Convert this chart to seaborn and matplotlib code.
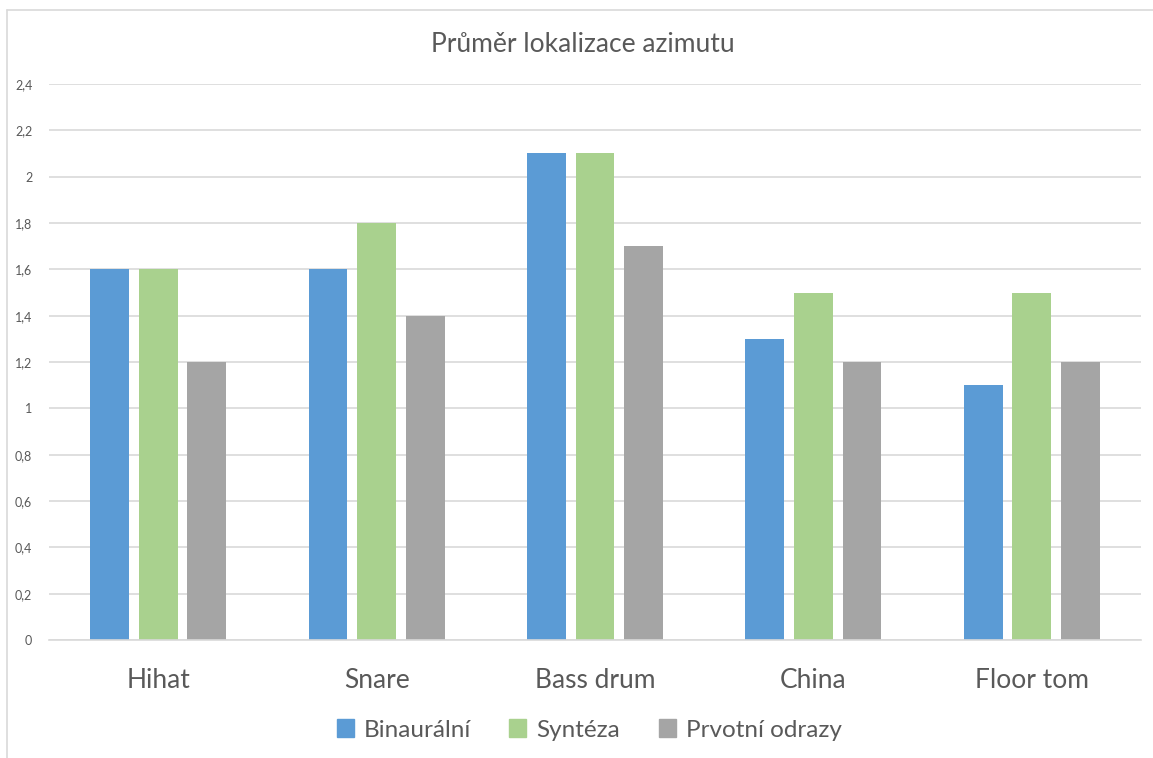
import matplotlib
matplotlib.use("Agg")
import matplotlib.pyplot as plt
import seaborn as sns
import pandas as pd
from matplotlib.lines import Line2D
from matplotlib.ticker import FuncFormatter

categories = ["Hihat", "Snare", "Bass drum", "China", "Floor tom"]
series_names = ["Binaurální", "Syntéza", "Prvotní odrazy"]
binauralni = [1.6, 1.6, 2.1, 1.3, 1.1]
synteza = [1.6, 1.8, 2.1, 1.5, 1.5]
prvotni = [1.2, 1.4, 1.7, 1.2, 1.2]
colors = ["#5B9BD5", "#A9D18E", "#A5A5A5"]
y_ticks = [0, 0.2, 0.4, 0.6, 0.8, 1.0, 1.2, 1.4, 1.6, 1.8, 2.0, 2.2, 2.4]

rows = []
for name, vals in zip(series_names, [binauralni, synteza, prvotni]):
    for c, v in zip(categories, vals):
        rows.append({"Kategorie": c, "Série": name, "Hodnota": v})
df = pd.DataFrame(rows)

sns.set_theme(style="white")
plt.rcParams['font.family'] = ['Lato', 'DejaVu Sans']

fig = plt.figure(figsize=(11.53, 7.58), dpi=100)
ax = fig.add_axes([49/1153, 1-640/758, (1141-49)/1153, (640-84)/758])

sns.barplot(data=df, x="Kategorie", y="Hodnota", hue="Série", order=categories,
            hue_order=series_names, palette=colors, width=0.667, gap=0.2,
            saturation=1, ax=ax, legend=False, linewidth=0, edgecolor="none")

ax.set_xlim(-0.5, 4.5)
ax.set_ylim(0, 2.4)
ax.set_yticks(y_ticks)
ax.yaxis.set_major_formatter(FuncFormatter(lambda v, p: f"{v:g}".replace(".", ",")))
ax.grid(axis="y", color="#D9D9D9", linewidth=1.2)
ax.set_axisbelow(True)
for s in ["top", "right", "left"]:
    ax.spines[s].set_visible(False)
ax.spines["bottom"].set_color("#D9D9D9")
ax.spines["bottom"].set_linewidth(1.2)
ax.set_xlabel("")
ax.set_ylabel("")
ax.tick_params(axis="y", length=0, pad=12, labelsize=9, labelcolor="#595959")
ax.tick_params(axis="x", length=0, pad=20, labelsize=19, labelcolor="#595959")

fig.text(583/1153, 1-45/758, "Průměr lokalizace azimutu", ha="center", va="center",
         fontsize=19, color="#595959")

handles = [plt.Rectangle((0, 0), 1, 1, color=c) for c in colors]
fig.legend(handles, series_names, loc="center", bbox_to_anchor=(589/1153, 1-730/758),
           ncol=3, frameon=False, fontsize=17.5, labelcolor="#595959",
           handlelength=0.7, handleheight=0.7, handletextpad=0.4, columnspacing=1.6)

fig.add_artist(Line2D([7/1153, 7/1153], [0, 1-10/758], color="#D9D9D9", lw=1.2,
                      transform=fig.transFigure))
fig.add_artist(Line2D([7/1153, 1], [1-10/758, 1-10/758], color="#D9D9D9", lw=1.2,
                      transform=fig.transFigure))

fig.savefig("out.png", dpi=100)
